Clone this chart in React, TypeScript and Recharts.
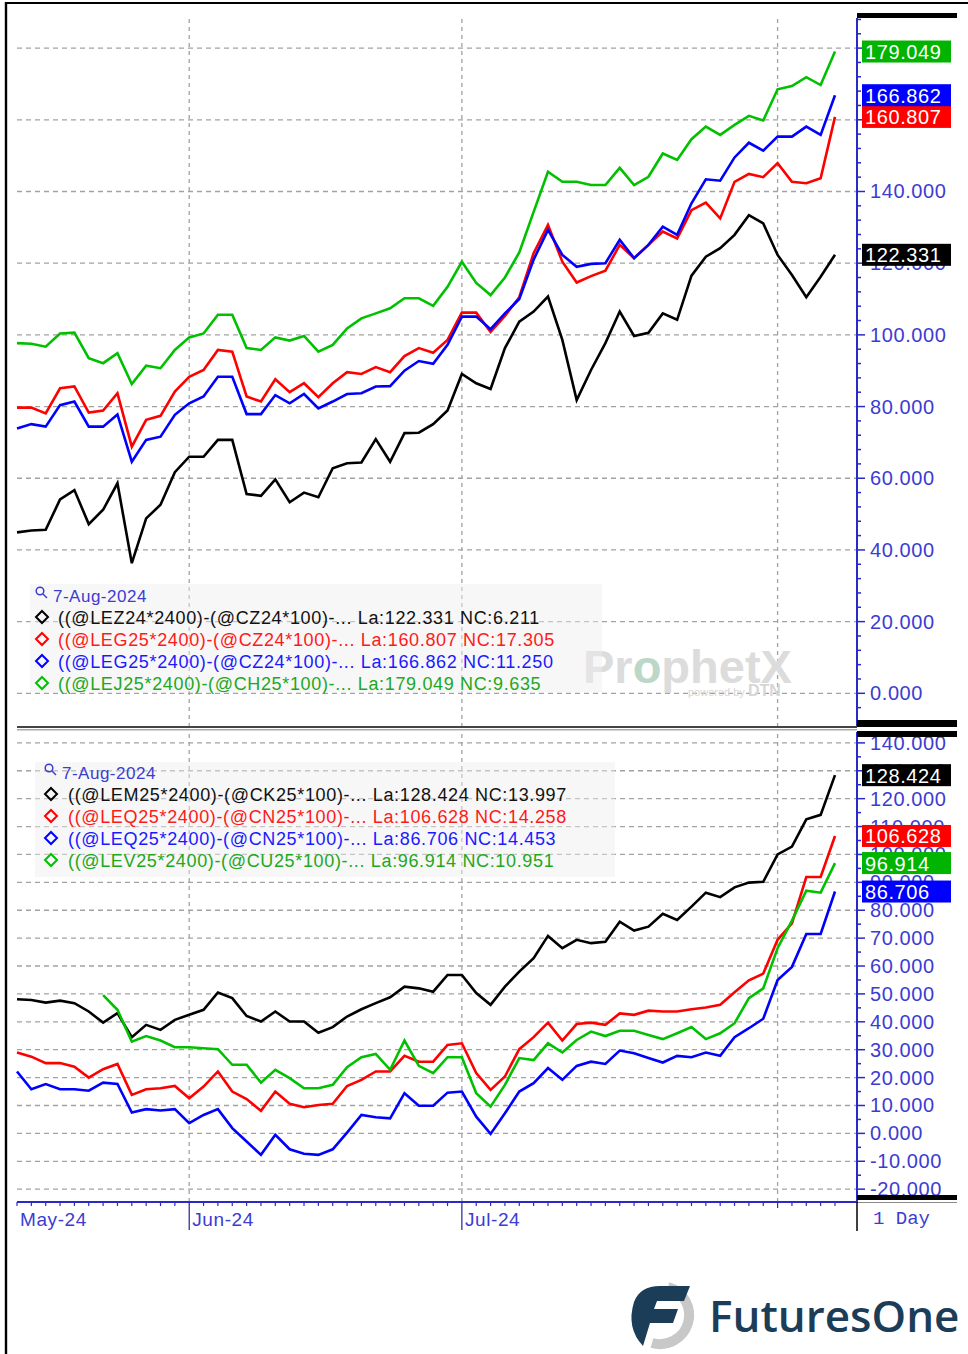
import React from "react";
import {
  CartesianGrid,
  Line,
  LineChart,
  ReferenceDot,
  ReferenceLine,
  XAxis,
  YAxis,
} from "recharts";

// trading days, mid-May to 7-Aug-2024
const dates = [
  "2024-05-15", "2024-05-16", "2024-05-17", "2024-05-20", "2024-05-21", "2024-05-22",
  "2024-05-23", "2024-05-24", "2024-05-28", "2024-05-29", "2024-05-30", "2024-05-31",
  "2024-06-03", "2024-06-04", "2024-06-05", "2024-06-06", "2024-06-07", "2024-06-10",
  "2024-06-11", "2024-06-12", "2024-06-13", "2024-06-14", "2024-06-17", "2024-06-18",
  "2024-06-20", "2024-06-21", "2024-06-24", "2024-06-25", "2024-06-26", "2024-06-27",
  "2024-06-28", "2024-07-01", "2024-07-02", "2024-07-03", "2024-07-05", "2024-07-08",
  "2024-07-09", "2024-07-10", "2024-07-11", "2024-07-12", "2024-07-15", "2024-07-16",
  "2024-07-17", "2024-07-18", "2024-07-19", "2024-07-22", "2024-07-23", "2024-07-24",
  "2024-07-25", "2024-07-26", "2024-07-29", "2024-07-30", "2024-07-31", "2024-08-01",
  "2024-08-02", "2024-08-05", "2024-08-06", "2024-08-07",
];

const monthLabels: Record<string, string> = {
  "2024-05-15": "May-24",
  "2024-06-03": "Jun-24",
  "2024-07-01": "Jul-24",
};
const monthStarts = ["2024-06-03", "2024-07-01", "2024-08-01"];

// upper pane: nearby cattle/corn spreads
const lez24 = [
  44.9, 45.4, 45.6, 54.1, 56.7, 47.2, 51.2, 58.6, 36.3, 48.8, 52.6, 61.7,
  66.0, 66.0, 70.7, 70.7, 55.6, 55.1, 59.7, 53.3, 56.0, 54.7, 62.8, 64.2,
  64.4, 70.9, 64.6, 72.6, 72.7, 75.1, 78.9, 89.1, 86.5, 84.9, 96.3, 103.7,
  106.5, 110.7, 98.6, 81.8, 90.2, 97.7, 106.5, 99.7, 100.6, 106.0, 104.2, 116.5,
  121.8, 124.2, 127.9, 133.4, 131.1, 122.3, 116.7, 110.5, 116.2, 122.331,
];
const leg25Red = [
  79.7, 79.7, 78.1, 85.1, 85.6, 78.3, 78.9, 83.7, 68.8, 76.3, 77.4, 84.2,
  88.3, 90.2, 95.8, 95.3, 82.8, 81.4, 87.6, 84.0, 86.5, 82.6, 86.5, 89.6,
  89.1, 91.0, 89.6, 94.1, 96.3, 95.0, 98.6, 106.2, 106.2, 100.8, 105.3, 110.5,
  122.8, 130.7, 120.4, 114.6, 116.4, 117.9, 125.1, 121.4, 125.1, 128.8, 126.9, 134.8,
  136.9, 132.5, 142.7, 144.9, 144.0, 147.9, 142.7, 142.3, 143.7, 160.807,
];
const leg25Blue = [
  73.9, 75.1, 74.4, 80.4, 81.4, 74.4, 74.4, 77.8, 64.6, 70.7, 71.6, 77.7,
  80.9, 82.8, 88.3, 88.3, 77.9, 77.9, 83.2, 80.9, 83.5, 79.5, 81.4, 83.5,
  83.7, 85.6, 85.7, 90.0, 92.7, 91.9, 97.2, 105.1, 105.1, 101.6, 106.0, 110.0,
  121.0, 129.3, 122.3, 119.0, 119.8, 120.0, 126.5, 121.4, 125.1, 130.2, 127.9, 136.7,
  143.4, 143.0, 149.5, 153.6, 151.4, 155.3, 155.3, 158.1, 155.8, 166.862,
];
const lej25 = [
  97.7, 97.5, 96.7, 100.4, 100.6, 93.5, 92.1, 94.9, 86.3, 91.4, 90.7, 95.8,
  99.3, 100.4, 105.6, 105.6, 96.3, 95.8, 99.3, 98.4, 99.7, 95.3, 97.2, 101.8,
  104.6, 106.0, 107.4, 110.2, 110.2, 108.1, 113.4, 120.4, 114.5, 111.1, 116.0, 123.0,
  134.3, 145.5, 142.7, 142.7, 141.8, 141.8, 146.6, 141.8, 144.1, 150.6, 148.8, 154.6,
  158.1, 155.8, 158.6, 161.1, 159.8, 168.5, 169.4, 171.9, 169.7, 179.049,
];

// lower pane: deferred cattle/corn spreads
const lem25 = [
  48.1, 47.8, 46.9, 47.6, 46.7, 43.7, 39.7, 43.1, 34.5, 38.9, 37.1, 40.7,
  42.5, 44.3, 50.5, 48.5, 42.1, 40.1, 43.7, 40.1, 40.1, 36.1, 38.1, 41.9,
  44.5, 46.7, 48.8, 52.6, 52.0, 50.8, 56.8, 56.8, 50.3, 46.1, 52.6, 58.0,
  62.8, 70.8, 66.4, 69.4, 68.2, 68.7, 75.9, 72.7, 74.1, 78.7, 76.5, 81.3,
  86.3, 84.7, 88.2, 89.9, 90.2, 100.0, 102.8, 112.6, 114.2, 128.424,
];
const leq25Red = [
  29.0, 27.5, 25.2, 25.2, 23.9, 20.0, 23.0, 24.9, 13.8, 15.8, 16.2, 17.0,
  12.6, 16.8, 22.2, 15.0, 12.3, 8.1, 15.0, 10.6, 9.4, 10.2, 10.6, 17.0,
  19.2, 22.2, 22.2, 27.8, 25.7, 25.7, 31.7, 32.3, 21.6, 15.6, 20.4, 30.2,
  34.5, 39.7, 33.3, 39.2, 39.7, 38.9, 43.0, 42.5, 44.0, 43.7, 43.7, 44.5,
  45.1, 46.1, 50.6, 54.9, 57.3, 69.4, 75.3, 91.9, 91.9, 106.628,
];
const leq25Blue = [
  22.2, 15.8, 17.7, 15.8, 15.8, 15.3, 18.2, 17.7, 7.5, 8.7, 8.2, 8.7,
  3.7, 6.6, 8.7, 1.9, -2.9, -7.7, -0.5, -5.7, -7.3, -7.7, -5.7, 0.3,
  6.6, 5.8, 5.4, 14.4, 9.9, 9.9, 14.6, 15.0, 6.0, -0.2, 7.2, 15.0,
  18.0, 23.4, 19.2, 24.2, 25.7, 24.9, 29.7, 28.7, 27.0, 25.4, 27.8, 27.3,
  29.0, 27.8, 34.5, 37.7, 41.1, 55.0, 59.7, 71.5, 71.5, 86.706,
];
const lev25 = [
  null, null, null, null, null, null, 49.6, 44.3, 32.9, 34.9, 33.3, 30.9,
  30.9, 30.5, 30.2, 24.6, 24.6, 18.2, 22.8, 19.8, 16.2, 16.2, 17.4, 23.7,
  27.3, 28.5, 22.8, 33.3, 24.2, 21.6, 27.3, 27.3, 14.4, 9.6, 17.4, 27.0,
  26.3, 32.3, 29.0, 33.5, 36.5, 34.9, 36.8, 36.8, 35.3, 33.8, 35.9, 38.1,
  33.8, 35.9, 39.5, 48.5, 52.0, 66.4, 76.3, 87.0, 86.3, 96.914,
];

const topNames = [
  "((@LEZ24*2400)-(@CZ24*100)-...",
  "((@LEG25*2400)-(@CZ24*100)-...",
  "((@LEG25*2400)-(@CZ24*100)-...",
  "((@LEJ25*2400)-(@CH25*100)-...",
];
const topNetChange = [6.211, 17.305, 11.25, 9.635];

const bottomNames = [
  "((@LEM25*2400)-(@CK25*100)-...",
  "((@LEQ25*2400)-(@CN25*100)-...",
  "((@LEQ25*2400)-(@CN25*100)-...",
  "((@LEV25*2400)-(@CU25*100)-...",
];
const bottomNetChange = [13.997, 14.258, 14.453, 10.951];

const topTicks = Array.from({ length: 50 }, (_, k) => -8 + 4 * k);
const topGrid = [0, 20, 40, 60, 80, 100, 120, 140, 160, 180];
const bottomTicks = Array.from({ length: 33 }, (_, k) => -20 + 5 * k);
const bottomGrid = [-20, -10, 0, 10, 20, 30, 40, 50, 60, 70, 80, 90, 100, 110, 120, 130, 140];

const BLACK = "#000000";
const RED = "#ff0000";
const BLUE = "#0000ff";
const GREEN = "#00c000";
const AXIS_BLUE = "#2a2ac8";
const LABEL_BLUE = "#3c3cd2";
const GRID = "#a2a2a2";
const FONT = "'Liberation Sans', Arial, sans-serif";

const topSeries = [
  { key: "lez24", values: lez24, color: BLACK, text: "#111111" },
  { key: "leg25r", values: leg25Red, color: RED, text: "#ff1a1a" },
  { key: "leg25b", values: leg25Blue, color: BLUE, text: "#1a1aff" },
  { key: "lej25", values: lej25, color: GREEN, text: "#1ea81e" },
];
const bottomSeries = [
  { key: "lem25", values: lem25, color: BLACK, text: "#111111" },
  { key: "leq25r", values: leq25Red, color: RED, text: "#ff1a1a" },
  { key: "leq25b", values: leq25Blue, color: BLUE, text: "#1a1aff" },
  { key: "lev25", values: lev25, color: GREEN, text: "#1ea81e" },
];

const buildRows = (series: typeof topSeries) =>
  dates.map((date, i) => {
    const row: Record<string, string | number | null> = { date };
    series.forEach((s) => {
      row[s.key] = s.values[i];
    });
    return row;
  });

const topRows = buildRows(topSeries);
const bottomRows = buildRows(bottomSeries);
const lastDate = dates[dates.length - 1];

const makePriceTick = (step: number) => (props: any) => {
  const { x, y, payload } = props;
  const v = payload.value as number;
  const major = Math.abs(v % step) < 1e-6;
  return (
    <g>
      <line x1={x} y1={y} x2={x + (major ? 8 : 4)} y2={y} stroke={AXIS_BLUE} strokeWidth={1.5} />
      {major && (
        <text x={x + 13} y={y + 7} fontSize={20} letterSpacing={0.6} fill={LABEL_BLUE} fontFamily={FONT}>
          {v.toFixed(3)}
        </text>
      )}
    </g>
  );
};

const DateTick = (props: any) => {
  const { x, y, payload } = props;
  const d = payload.value as string;
  const label = monthLabels[d];
  const longTick = d === "2024-06-03" || d === "2024-07-01";
  const len = longTick ? 28 : monthStarts.includes(d) ? 6 : 4;
  return (
    <g>
      <line x1={x} y1={y} x2={x} y2={y + len} stroke={longTick ? "#22229a" : AXIS_BLUE} strokeWidth={1.2} />
      {label && (
        <text x={x + 3} y={y + 24} fontSize={19} letterSpacing={0.6} fill={LABEL_BLUE} fontFamily={FONT}>
          {label}
        </text>
      )}
    </g>
  );
};

// last-price flag sitting on the price scale
const tagShape = (color: string, value: number) => (props: any) => {
  const { cx, cy } = props;
  const left = cx + 27;
  return (
    <g>
      <rect x={left} y={cy - 11} width={89} height={22} fill={color} />
      <text x={left + 3} y={cy + 7.5} fontSize={20} letterSpacing={0.6} fill="#ffffff" fontFamily={FONT}>
        {value.toFixed(3)}
      </text>
    </g>
  );
};

const Diamond = ({ cx, cy, color }: { cx: number; cy: number; color: string }) => (
  <polygon
    points={`${cx},${cy - 6} ${cx + 6},${cy} ${cx},${cy + 6} ${cx - 6},${cy}`}
    fill="none"
    stroke={color}
    strokeWidth={2}
  />
);

const Magnifier = ({ x, y }: { x: number; y: number }) => (
  <g stroke="#3c3cd2" strokeWidth={1.5} fill="none">
    <circle cx={x + 4} cy={y + 4} r={3.8} />
    <line x1={x + 7} y1={y + 7} x2={x + 11} y2={y + 11} />
  </g>
);

const LegendBlock = ({
  x, y, w, h, iconX, textX, firstRowY, series, names, netChange,
}: {
  x: number; y: number; w: number; h: number; iconX: number; textX: number; firstRowY: number;
  series: typeof topSeries; names: string[]; netChange: number[];
}) => (
  <g>
    <rect x={x} y={y} width={w} height={h} fill="#eeeeee" fillOpacity={0.45} />
    <Magnifier x={iconX - 6} y={firstRowY - 8} />
    <text x={iconX + 11} y={firstRowY + 6.5} fontSize={17} letterSpacing={0.5} fill="#3c3cd2" fontFamily={FONT}>
      7-Aug-2024
    </text>
    {series.map((s, k) => {
      const cy = firstRowY + 22 * (k + 1);
      const last = s.values[s.values.length - 1] as number;
      return (
        <g key={s.key}>
          <Diamond cx={iconX} cy={cy} color={s.color} />
          <text
            x={textX}
            y={cy + 6.5}
            fontSize={18}
            letterSpacing={0.65}
            fill={s.text}
            fontFamily={FONT}
            style={{ whiteSpace: "pre" }}
          >
            {`${names[k]} La:${last.toFixed(3)} NC:${netChange[k].toFixed(3)}`}
          </text>
        </g>
      );
    })}
  </g>
);

export default function App() {
  return (
    <div
      style={{
        position: "absolute",
        left: 0,
        top: 0,
        width: 968,
        height: 1354,
        background: "#ffffff",
        overflow: "hidden",
      }}
    >
      <div style={{ position: "absolute", left: 0, top: 0 }}>
        <LineChart width={968} height={740} data={topRows} margin={{ top: 18, right: 11, bottom: 13, left: 17 }}>
          <CartesianGrid
            vertical={false}
            horizontalValues={topGrid}
            stroke={GRID}
            strokeWidth={1.3}
            strokeDasharray="5 4"
          />
          <XAxis dataKey="date" hide padding={{ left: 0, right: 22 }} />
          <YAxis
            orientation="right"
            width={100}
            domain={[-9.4, 188.4]}
            ticks={topTicks}
            interval={0}
            tickSize={0}
            tickMargin={0}
            tickLine={false}
            axisLine={{ stroke: AXIS_BLUE, strokeWidth: 2 }}
            tick={makePriceTick(20)}
          />
          {monthStarts.map((d) => (
            <ReferenceLine key={d} x={d} stroke={GRID} strokeWidth={1.3} strokeDasharray="4 4" />
          ))}
          {topSeries.map((s) => (
            <Line
              key={s.key}
              type="linear"
              dataKey={s.key}
              stroke={s.color}
              strokeWidth={2.6}
              dot={false}
              isAnimationActive={false}
            />
          ))}
          {topSeries.map((s) => {
            const last = s.values[s.values.length - 1] as number;
            return (
              <ReferenceDot
                key={`tag-${s.key}`}
                x={lastDate}
                y={last}
                r={0}
                ifOverflow="visible"
                zIndex={2500}
                shape={tagShape(s.color === GREEN ? "#00b400" : s.color, last)}
              />
            );
          })}
        </LineChart>
      </div>

      <div style={{ position: "absolute", left: 0, top: 732 }}>
        <LineChart width={968} height={510} data={bottomRows} margin={{ top: 0, right: 11, bottom: 0, left: 17 }}>
          <CartesianGrid
            vertical={false}
            horizontalValues={bottomGrid}
            stroke={GRID}
            strokeWidth={1.3}
            strokeDasharray="5 4"
          />
          <XAxis
            dataKey="date"
            height={40}
            padding={{ left: 0, right: 22 }}
            interval={0}
            tickSize={0}
            tickMargin={0}
            tickLine={false}
            axisLine={{ stroke: AXIS_BLUE, strokeWidth: 2 }}
            tick={<DateTick />}
          />
          <YAxis
            orientation="right"
            width={100}
            domain={[-24.6, 143.9]}
            ticks={bottomTicks}
            interval={0}
            tickSize={0}
            tickMargin={0}
            tickLine={false}
            axisLine={{ stroke: AXIS_BLUE, strokeWidth: 2 }}
            tick={makePriceTick(10)}
          />
          {monthStarts.map((d) => (
            <ReferenceLine key={d} x={d} stroke={GRID} strokeWidth={1.3} strokeDasharray="4 4" />
          ))}
          {bottomSeries.map((s) => (
            <Line
              key={s.key}
              type="linear"
              dataKey={s.key}
              stroke={s.color}
              strokeWidth={2.6}
              dot={false}
              connectNulls={false}
              isAnimationActive={false}
            />
          ))}
          {bottomSeries.map((s) => {
            const last = s.values[s.values.length - 1] as number;
            return (
              <ReferenceDot
                key={`tag-${s.key}`}
                x={lastDate}
                y={last}
                r={0}
                ifOverflow="visible"
                zIndex={2500}
                shape={tagShape(s.color === GREEN ? "#00b400" : s.color, last)}
              />
            );
          })}
        </LineChart>
      </div>

      {/* frame, pane separators, legends and branding */}
      <svg
        width={968}
        height={1354}
        style={{ position: "absolute", left: 0, top: 0, pointerEvents: "none" }}
      >
        <line x1={6} y1={3} x2={968} y2={3} stroke="#000" strokeWidth={2} />
        <line x1={6} y1={2} x2={6} y2={1354} stroke="#000" strokeWidth={2.4} />

        <rect x={857} y={13} width={100} height={5} fill="#000" />
        <rect x={857} y={720} width={100} height={7} fill="#000" />
        <rect x={857} y={731} width={100} height={6} fill="#000" />
        <rect x={857} y={1195} width={100} height={5} fill="#000" />
        <line x1={857} y1={1202.5} x2={957} y2={1202.5} stroke="#8a8a8a" strokeWidth={1} />

        <rect x={17} y={726} width={840} height={2} fill="#444" />
        <rect x={17} y={729} width={840} height={1.5} fill="#aaa" />

        <line x1={857} y1={1202} x2={857} y2={1231} stroke="#000" strokeWidth={1.5} />
        <text x={873} y={1224} fontSize={19} fill={LABEL_BLUE} fontFamily="'Liberation Mono', monospace" style={{ whiteSpace: "pre" }}>
          1 Day
        </text>

        {/* ProphetX watermark */}
        <text x={583} y={683} fontSize={47} fontWeight={700} fill="#dcdcdc" fontFamily={FONT}>
          Pr<tspan fill="#bcd6c8">o</tspan>phetX
        </text>
        <text x={688} y={696} fontSize={11} fill="#d6d6d6" fontFamily={FONT}>
          powered by <tspan fontSize={16} fontWeight={700}>DTN</tspan>
        </text>

        <LegendBlock
          x={30} y={584} w={572} h={108}
          iconX={42} textX={58} firstRowY={595}
          series={topSeries} names={topNames} netChange={topNetChange}
        />
        <LegendBlock
          x={35} y={762} w={580} h={115}
          iconX={51} textX={68} firstRowY={772}
          series={bottomSeries} names={bottomNames} netChange={bottomNetChange}
        />

        {/* FuturesOne logo */}
        <path
          d="M 668 1287 A 29 29 0 1 1 652 1343"
          fill="none"
          stroke="#c8c8c8"
          strokeWidth={10}
        />
        <path
          d="M 634 1302 Q 640 1286 660 1286 L 690 1286 L 684 1301 L 657 1301 L 654 1309 L 678 1309 L 673 1323 L 650 1323 L 643 1346 Q 626 1328 634 1302 Z"
          fill="#1b3d58"
        />
        <text x={709} y={1332} fontSize={44} fontWeight={600} fill="#1b3d58" fontFamily="'Open Sans', sans-serif">
          FuturesOne
        </text>
      </svg>
    </div>
  );
}
